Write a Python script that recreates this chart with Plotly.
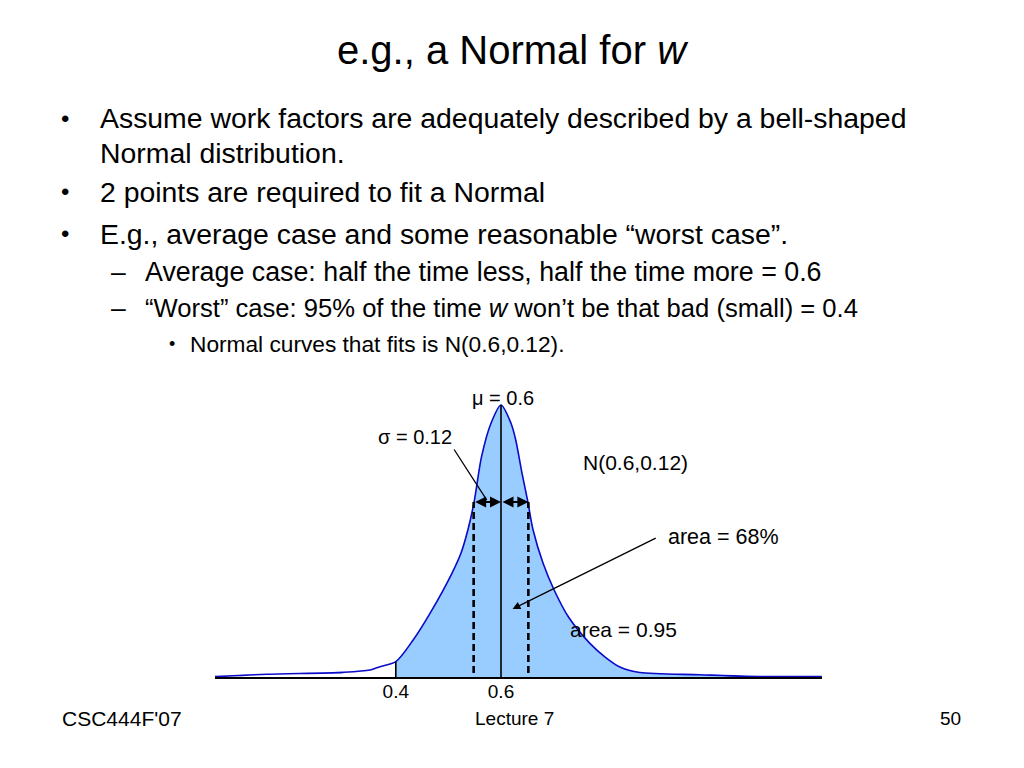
import plotly.graph_objects as go

# ---- data ----
curve_x = [0.056, 0.155, 0.300, 0.351, 0.370, 0.400, 0.433, 0.465, 0.506, 0.524,
           0.537, 0.549, 0.563, 0.581, 0.600, 0.619, 0.628, 0.640, 0.651,
           0.661, 0.680, 0.701, 0.728, 0.769, 0.798, 0.826, 0.864, 0.978, 1.067, 1.210]
curve_y = [0.004, 0.033, 0.057, 0.085, 0.126, 0.187, 0.452, 0.777, 1.257, 1.513,
           1.794, 2.140, 2.689, 3.097, 3.320, 3.097, 2.893, 2.486, 2.140,
           1.794, 1.388, 1.062, 0.736, 0.411, 0.244, 0.122, 0.055, 0.028, 0.009, 0.004]
fill_start = 0.4
mean = 0.6
peak = 3.32
left_cut_height = 0.187
sigma_lo = 0.548
sigma_hi = 0.652
sigma_bar_y = 2.136
dash_bottom = 0.05
tick_vals = [0.4, 0.6]
tick_text = ["0.4", "0.6"]

title_text = "e.g., a Normal for <i>w</i>"
bullets = [
    "Assume work factors are adequately described by a bell-shaped",
    "Normal distribution.",
    "2 points are required to fit a Normal",
    "E.g., average case and some reasonable \u201cworst case\u201d.",
]
sub_bullets = [
    "Average case: half the time less, half the time more = 0.6",
    "\u201cWorst\u201d case: 95% of the time <i>w</i> won\u2019t be that bad (small) = 0.4",
]
subsub_bullets = ["Normal curves that fits is N(0.6,0.12)."]
footer_left, footer_mid, footer_right = "CSC444F'07", "Lecture 7", "50"

FONT = "Liberation Sans, Arial, sans-serif"
OFF = 8  # page body margin
W, H = 1024 - 2 * OFF, 768 - 2 * OFF

def px(x):
    return (x - OFF) / W

def py(y):
    return 1 - (y - OFF) / H

fill_x = [fill_start] + [x for x in curve_x if x > fill_start]
fill_y = [left_cut_height] + [y for x, y in zip(curve_x, curve_y) if x > fill_start]

fig = go.Figure()
fig.add_trace(go.Scatter(x=fill_x, y=fill_y, mode="lines", fill="tozeroy",
                         fillcolor="rgb(153,204,255)", line=dict(width=0, shape="spline", smoothing=0.8),
                         hoverinfo="skip"))
fig.add_trace(go.Scatter(x=curve_x, y=curve_y, mode="lines",
                         line=dict(color="rgb(10,10,200)", width=1.6, shape="spline", smoothing=0.8)))
fig.add_trace(go.Scatter(x=[mean, mean], y=[0, peak], mode="lines", line=dict(color="black", width=1.6)))
fig.add_trace(go.Scatter(x=[fill_start, fill_start], y=[0, left_cut_height], mode="lines",
                         line=dict(color="black", width=1.6)))
for sx in (sigma_lo, sigma_hi):
    fig.add_trace(go.Scatter(x=[sx, sx], y=[dash_bottom, sigma_bar_y], mode="lines",
                             line=dict(color="black", width=2.6, dash="7px,4px")))

x_lo = 0.6 - 286 / 526
x_hi = 0.6 + 321 / 526
y_top = peak * (677 - 390) / 272

fig.update_layout(
    width=W, height=H, margin=dict(l=0, r=0, t=0, b=0),
    paper_bgcolor="white", plot_bgcolor="white", showlegend=False,
    font=dict(family=FONT, color="black"),
    xaxis=dict(domain=[px(215), px(822)], range=[x_lo, x_hi], showgrid=False, zeroline=False,
               showline=True, linecolor="black", linewidth=1.5, tickvals=tick_vals, ticktext=tick_text,
               ticks="", ticklabelstandoff=-4, tickfont=dict(size=19, family=FONT, color="black")),
    yaxis=dict(domain=[py(677), py(390)], range=[0, y_top], visible=False),
)

ann = []
for a, b in ((sigma_lo, mean), (mean, sigma_hi)):
    ann.append(dict(x=b, y=sigma_bar_y, ax=a, ay=sigma_bar_y, xref="x", yref="y", axref="x", ayref="y",
                    text="", showarrow=True, arrowhead=2, arrowsize=1.0, arrowwidth=2.2,
                    arrowside="end+start", arrowcolor="black", startarrowhead=2, startarrowsize=1.0))
ann.append(dict(x=0.573, y=2.160, ax=0.509, ay=2.795, xref="x", yref="y", axref="x", ayref="y",
                text="", showarrow=True, arrowhead=0, arrowwidth=1.3, arrowcolor="black"))
ann.append(dict(x=0.622, y=0.830, ax=0.897, ay=1.705, xref="x", yref="y", axref="x", ayref="y",
                text="", showarrow=True, arrowhead=2, arrowsize=1.2, arrowwidth=1.3, arrowcolor="black"))

def label(text, x, y, size, anchor="left"):
    ann.append(dict(x=px(x), y=py(y), xref="paper", yref="paper", text=text, showarrow=False,
                    xanchor=anchor, yanchor="middle", font=dict(size=size, family=FONT, color="black")))

label("\u03bc = 0.6", 503, 398, 20, "center")
label("\u03c3 = 0.12", 376, 437, 20)
label("N(0.6,0.12)", 581, 463, 21)
label("area = 68%", 666, 537, 21.5)
label("area = 0.95", 568, 629, 21)

label(title_text, 513, 50, 40, "center")
bullet_y = [118, 153, 192, 234]
for i, t in enumerate(bullets):
    label(t, 98, bullet_y[i], 28.4)
    if i != 1:
        label("\u2022", 65, bullet_y[i], 24, "center")
sub_y = [272, 308]
sub_size = [26.8, 25.6]
for i, t in enumerate(sub_bullets):
    label(t, 143, sub_y[i], sub_size[i])
    label("\u2013", 118, sub_y[i], 26.5, "center")
label(subsub_bullets[0], 188, 344, 22.7)
label("\u2022", 172, 344, 18, "center")

label(footer_left, 60, 718, 21)
label(footer_mid, 514, 718, 19, "center")
label(footer_right, 963, 718, 19, "right")

fig.update_layout(annotations=ann)
fig.write_html("out.html")
